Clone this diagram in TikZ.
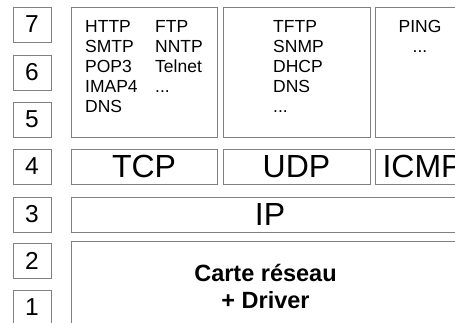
\documentclass[tikz,border=0pt]{standalone}
\usepackage{fontspec}
\setmainfont{Liberation Sans}
\usetikzlibrary{positioning}

\newcommand\etcdots{...}

\tikzset{
  numbox/.style = {draw=black!50, line width=0.9pt, minimum width=38pt, minimum height=35pt,
                   inner sep=0pt, font=\fontsize{24.5}{28}\selectfont},
  layer/.style  = {draw=black!50, line width=0.9pt, minimum height=35pt, inner sep=0pt,
                   font=\fontsize{32}{36}\selectfont},
  proto/.style  = {anchor=base west, inner sep=0pt, font=\fontsize{17.5}{20}\selectfont},
  protoc/.style = {anchor=base, inner sep=0pt, font=\fontsize{17.5}{20}\selectfont}
}

\begin{document}
\begin{tikzpicture}[x=1pt, y=-1pt]
	\useasboundingbox (0, 0) rectangle (455, 323);
	\clip (0, 0) rectangle (455, 323);
	% OSI layer numbers
	\node[numbox] (n7) at (32, 24.5) {7};
	\node[numbox] (n6) at (32, 72.5) {6};
	\node[numbox] (n5) at (32, 119.5) {5};
	\node[numbox] (n4) at (32, 166.5) {4};
	\node[numbox] (n3) at (32, 214.5) {3};
	\node[numbox] (n2) at (32, 260.5) {2};
	\node[numbox] (n1) at (32, 307.5) {1};
	% application layer
	\node[layer, minimum width=146pt, minimum height=130pt] (app1) at (144, 72) {};
	\node[layer, minimum width=147pt, minimum height=130pt] (app2) at (296.5, 72) {};
	\node[layer, minimum width=95pt, minimum height=130pt] (app3) at (422.5, 72) {};
	\foreach \p [count=\i] in {HTTP, SMTP, POP3, IMAP4, DNS}
		\node[proto] (tcpa\i) at (85, 13 + 20*\i) {\p};
	\foreach \p [count=\i] in {FTP, NNTP, Telnet, \etcdots}
		\node[proto] (tcpb\i) at (155, 13 + 20*\i) {\p};
	\foreach \p [count=\i] in {TFTP, SNMP, DHCP, DNS, \etcdots}
		\node[proto] (udp\i) at (273, 13 + 20*\i) {\p};
	\node[protoc] (ping) at (420, 33) {PING};
	\node[protoc] (pingdots) at (420, 53) {\etcdots};
	% transport layer
	\node[layer, minimum width=146pt] (tcp) at (144, 166.5) {TCP};
	\node[layer, minimum width=147pt] (udp) at (296.5, 166.5) {UDP};
	\node[layer, minimum width=95pt] (icmp) at (422.5, 166.5) {ICMP};
	% network layer
	\node[layer, minimum width=398pt] (ip) at (270, 214.5) {IP};
	% link + physical
	\node[layer, minimum width=389pt, minimum height=90pt, align=center,
	      font=\fontsize{23.5}{27}\selectfont\bfseries] (card) at (265.5, 286) {Carte réseau\\+ Driver};
\end{tikzpicture}
\end{document}
